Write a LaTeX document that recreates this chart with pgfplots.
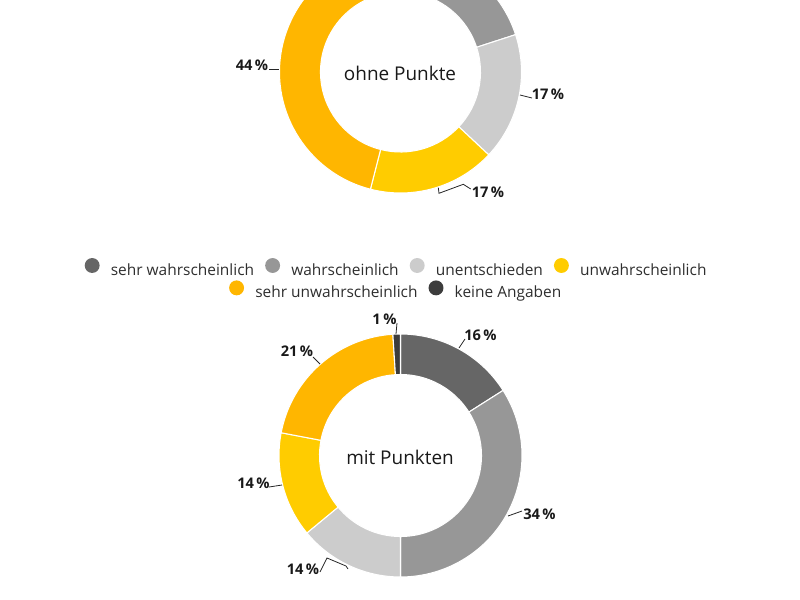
\documentclass[border=0pt]{standalone}
\usepackage{pgfplots}
\usepackage{pgfplotstable}
\pgfplotsset{compat=1.18}
\usepackage{fontspec}
\setmainfont{Open Sans}

\definecolor{sehrw}{HTML}{666666}
\definecolor{wahr}{HTML}{979797}
\definecolor{unent}{HTML}{CCCCCC}
\definecolor{unw}{HTML}{FFCC00}
\definecolor{sehru}{HTML}{FFB600}
\definecolor{keine}{HTML}{3C3C3C}
\definecolor{txt}{HTML}{2E2E2E}

% shares in percent, clockwise from 12 o'clock
\pgfplotstableread{
value color
5  sehrw
15 wahr
17 unent
17 unw
44 sehru
2  keine
}\ohne
\pgfplotstableread{
value color
16 sehrw
34 wahr
14 unent
14 unw
21 sehru
1  keine
}\mit

% pixel frame: 1 unit = 1 px, y downwards
\pgfplotsset{canvas/.style={x=0.75pt, y=0.75pt, xmin=0, xmax=800, ymin=0, ymax=600,
  y dir=reverse, hide axis}}

% #1 table, #2 cx, #3 cy, #4 outer r, #5 inner r
\newcommand{\donut}[5]{%
  \pgfplotstablegetrowsof{#1}%
  \pgfmathtruncatemacro{\nrows}{\pgfplotsretval-1}%
  \def\cum{0}%
  \pgfplotsforeachungrouped \rowi in {0,...,\nrows}{%
    \pgfplotstablegetelem{\rowi}{value}\of{#1}\let\val\pgfplotsretval
    \pgfplotstablegetelem{\rowi}{color}\of{#1}\let\col\pgfplotsretval
    \pgfmathsetmacro{\angA}{\cum*3.6}%
    \pgfmathsetmacro{\angB}{(\cum+\val)*3.6}%
    \pgfmathsetmacro{\xa}{#2+#4*sin(\angA)}%
    \pgfmathsetmacro{\ya}{#3-#4*cos(\angA)}%
    \pgfmathsetmacro{\xb}{#2+#5*sin(\angB)}%
    \pgfmathsetmacro{\yb}{#3-#5*cos(\angB)}%
    \pgfmathsetmacro{\sa}{90-\angA}%
    \pgfmathsetmacro{\sb}{90-\angB}%
    \edef\tmp{\noexpand\fill[\col, draw=white, line width=0.8pt]
      (axis cs:\xa,\ya) arc[start angle=\sa, end angle=\sb, radius=#4*0.75pt]
      -- (axis cs:\xb,\yb) arc[start angle=\sb, end angle=\sa, radius=#5*0.75pt] -- cycle;}%
    \tmp
    \pgfmathsetmacro{\cum}{\cum+\val}%
  }%
}

\begin{document}
\begin{tikzpicture}
\begin{axis}[canvas, name=main,
  legend columns=-1, legend cell align=left,
  legend image code/.code={\fill[#1] (0pt,3.6pt) circle (5.6pt);},
  legend style={draw=none, fill=none, inner sep=0pt, outer sep=0pt,
    at={(0.4945,0.554)}, anchor=center, text=txt,
    font=\fontsize{11.6}{14}\selectfont, nodes={inner sep=0pt},
    /tikz/every odd column/.append style={column sep=8.4pt},
    /tikz/every even column/.append style={column sep=8.25pt}}]
  \addlegendimage{fill=sehrw, draw=none}\addlegendentry{sehr wahrscheinlich}
  \addlegendimage{fill=wahr, draw=none}\addlegendentry{wahrscheinlich}
  \addlegendimage{fill=unent, draw=none}\addlegendentry{unentschieden}
  \addlegendimage{fill=unw, draw=none}\addlegendentry{unwahrscheinlich}

  \donut{\ohne}{400.5}{72}{121}{80}
  \donut{\mit}{400.5}{455.5}{121.5}{81}

  \node[anchor=base, inner sep=0pt, font=\fontsize{14.2}{16}\selectfont, text=black!90]
    at (axis cs:400,80) {ohne Punkte};
  \node[anchor=base, inner sep=0pt, font=\fontsize{14.2}{16}\selectfont, text=black!90]
    at (axis cs:400,464) {mit Punkten};

  \begin{scope}[every node/.style={anchor=base, inner sep=0pt,
      font=\bfseries\fontsize{11}{13}\selectfont, text=black!90}]
    \node at (axis cs:252,70.7) {44\,\%};
    \node at (axis cs:548,99) {17\,\%};
    \node at (axis cs:488,197.5) {17\,\%};
    \node at (axis cs:384.5,324) {1\,\%};
    \node at (axis cs:480.5,340) {16\,\%};
    \node at (axis cs:297,356.7) {21\,\%};
    \node at (axis cs:253.5,488.3) {14\,\%};
    \node at (axis cs:539.5,519) {34\,\%};
    \node at (axis cs:303,574.5) {14\,\%};
  \end{scope}

  \begin{scope}[draw=black!85, line width=0.6pt]
    \draw (axis cs:269,69) -- (axis cs:279,69);
    \draw (axis cs:520,95) -- (axis cs:532,98);
    \draw (axis cs:438.3,187.7) -- (axis cs:439,193.3) -- (axis cs:463.3,184.3) -- (axis cs:470.7,189);
    \draw (axis cs:397,323) -- (axis cs:396,334);
    \draw (axis cs:459,348) -- (axis cs:465,339);
    \draw (axis cs:313,357) -- (axis cs:320,364);
    \draw (axis cs:269,487) -- (axis cs:282,485);
    \draw (axis cs:508,516) -- (axis cs:522,511);
    \draw (axis cs:320,572) -- (axis cs:327,558) -- (axis cs:346,566) -- (axis cs:348,569);
  \end{scope}
\end{axis}

\begin{axis}[canvas,
  legend columns=-1, legend cell align=left,
  legend image code/.code={\fill[#1] (0pt,3.6pt) circle (5.6pt);},
  legend style={draw=none, fill=none, inner sep=0pt, outer sep=0pt,
    at={(0.494,0.5167)}, anchor=center, text=txt,
    font=\fontsize{11.6}{14}\selectfont, nodes={inner sep=0pt},
    /tikz/every odd column/.append style={column sep=8.4pt},
    /tikz/every even column/.append style={column sep=8.25pt}}]
  \addlegendimage{fill=sehru, draw=none}\addlegendentry{sehr unwahrscheinlich}
  \addlegendimage{fill=keine, draw=none}\addlegendentry{keine Angaben}
\end{axis}
\pgfresetboundingbox
\useasboundingbox (main.south west) rectangle (main.north east);
\end{tikzpicture}
\end{document}
